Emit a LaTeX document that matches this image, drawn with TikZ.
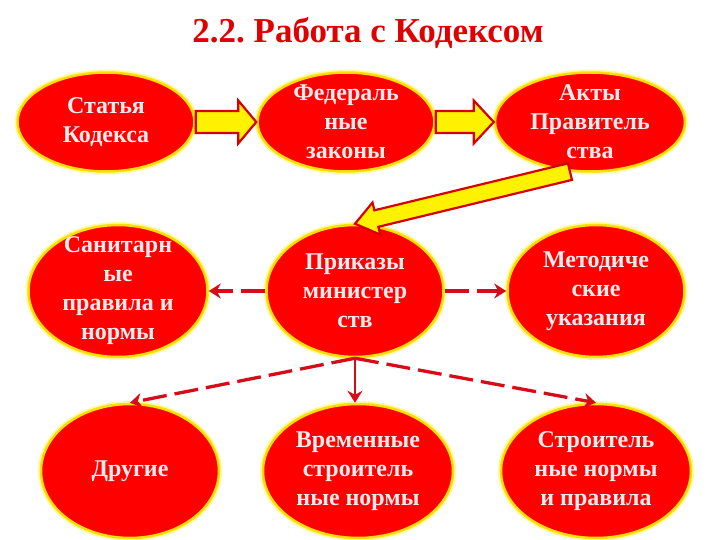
\documentclass[tikz,border=0pt]{standalone}
\usepackage{fontspec}
\setmainfont{Liberation Serif}
\usetikzlibrary{shapes.geometric,arrows.meta,calc}
\definecolor{fillred}{RGB}{255,0,0}
\definecolor{glowyel}{RGB}{255,222,0}
\definecolor{txtcol}{RGB}{255,236,236}
\definecolor{linered}{RGB}{215,12,24}
\definecolor{titlered}{RGB}{225,0,0}
\definecolor{arrowedge}{RGB}{215,0,0}
\tikzset{
  el/.style={ellipse, inner sep=0pt, fill=fillred, draw=glowyel, line width=2.5pt,
    preaction={draw=yellow!35, line width=6pt}},
  eltext/.style={inner sep=0pt, align=center, text=txtcol,
    font=\fontsize{24}{29}\selectfont\bfseries},
  blockarr/.style={fill=yellow, draw=arrowedge, line width=2.2pt, line join=miter},
  dasharr/.style={draw=linered, line width=3.3pt, dash pattern=on 24pt off 8pt,
    -{Stealth[length=12pt,width=15pt,inset=4pt]}},
  solidarr/.style={draw=linered, line width=2.8pt,
    -{Stealth[length=12pt,width=15pt,inset=4pt]}},
}
\newcommand\blockarrow[5]{% start, end, half shaft, half head, head length
  \coordinate (tmpH) at ($(#2)!#5!(#1)$);
  \draw[blockarr] ($(#1)!#3!90:(#2)$) -- ($(tmpH)!#3!-90:(#1)$) --
    ($(tmpH)!#4!-90:(#1)$) -- (#2) -- ($(tmpH)!#4!90:(#1)$) --
    ($(tmpH)!#3!90:(#1)$) -- ($(#1)!#3!-90:(#2)$) -- cycle;
}
\frenchspacing
\begin{document}
\begin{tikzpicture}[x=1pt,y=-1pt]
\useasboundingbox (0,0) rectangle (720,540);
\fill[white] (0,0) rectangle (720,540);

\node[anchor=base, text=titlered, font=\fontsize{35}{40}\selectfont\bfseries] (title) at (368,43) {2.2. Работа с Кодексом};

% top row
\node[el, minimum width=177pt, minimum height=99pt] (ka) at (106,122) {};
\node[el, minimum width=177pt, minimum height=99pt] (fz) at (346,122) {};
\node[el, minimum width=190pt, minimum height=99pt] (akt) at (590,122) {};
% middle row
\node[el, minimum width=179pt, minimum height=132pt] (san) at (118,291) {};
\node[el, minimum width=177pt, minimum height=132pt] (pr) at (355,291) {};
\node[el, minimum width=177pt, minimum height=132pt] (met) at (596,291) {};
% bottom row
\node[el, minimum width=178pt, minimum height=134pt] (dr) at (130,471) {};
\node[el, minimum width=190pt, minimum height=134pt] (vr) at (358,471) {};
\node[el, minimum width=190pt, minimum height=134pt] (st) at (596,471) {};

% texts
\node[eltext] (ka-t) at (ka) {Статья\\Кодекса};
\node[eltext] (fz-t) at (fz) {Федераль\\ные\\законы};
\node[eltext] (akt-t) at (akt) {Акты\\Правитель\\ства};
\node[eltext] (san-t) at (san) {Санитарн\\ые\\правила и\\нормы};
\node[eltext] (pr-t) at (pr) {Приказы\\министер\\ств};
\node[eltext] (met-t) at (met) {Методиче\\ские\\указания};
\node[eltext] (dr-t) at (dr) {Другие};
\node[eltext] (vr-t) at (vr) {Временные\\строитель\\ные нормы};
\node[eltext] (st-t) at (st) {Строитель\\ные нормы\\и правила};

% block arrows
\blockarrow{ka.east}{fz.west}{11pt}{21.5pt}{18pt}
\blockarrow{fz.east}{akt.west}{11pt}{21.5pt}{20pt}
\coordinate (diagS) at (akt.-112);
\blockarrow{diagS}{pr.north}{8.5pt}{16.5pt}{22pt}

% dashed arrows
\draw[dasharr] (pr.west) -- (san.east);
\draw[dasharr] (pr.east) -- (met.west);
\draw[dasharr] (pr.south) -- (dr.north);
\draw[dasharr] (pr.south) -- (st.north);
\draw[solidarr] (pr.south) -- (pr.south |- vr.north);
\end{tikzpicture}
\end{document}
